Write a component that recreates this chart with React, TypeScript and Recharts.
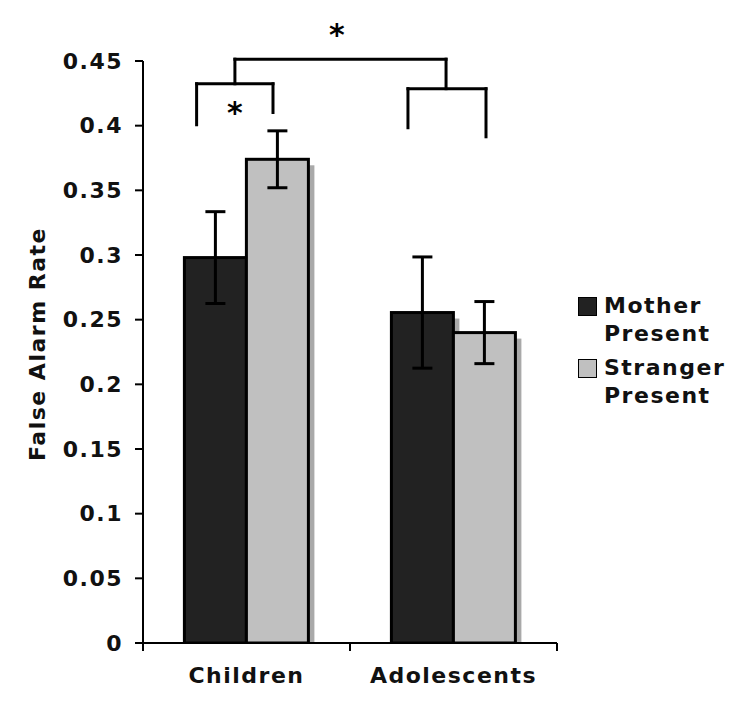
import {
  Bar,
  BarChart,
  ErrorBar,
  Label,
  Legend,
  ReferenceDot,
  ReferenceLine,
  XAxis,
  YAxis,
} from "recharts";

const FONT = "'DejaVu Sans', Verdana, sans-serif";

const GROUPS = ["Children", "Adolescents"];
const MOTHER = [0.298, 0.2555];
const STRANGER = [0.374, 0.24];
const MOTHER_ERR = [0.0355, 0.043];
const STRANGER_ERR = [0.022, 0.024];
const Y_TICKS = [0, 0.05, 0.1, 0.15, 0.2, 0.25, 0.3, 0.35, 0.4, 0.45];
const Y_LABELS = ["0", "0.05", "0.1", "0.15", "0.2", "0.25", "0.3", "0.35", "0.4", "0.45"];

const SERIES = [
  { key: "mother", err: "motherErr", name: "Mother Present", fill: "#222222" },
  { key: "stranger", err: "strangerErr", name: "Stranger Present", fill: "#c0c0c0" },
];

// significance brackets, in (group position, rate) units
const PAIR_BRACKETS = [
  { left: 0.259, right: 0.628, stem: 0.444, y: 0.4324, leftEnd: 0.4007, rightEnd: 0.4102 },
  { left: 1.28, right: 1.657, stem: 1.464, y: 0.4286, leftEnd: 0.3984, rightEnd: 0.3914 },
];
const TOP_Y = 0.4514;
const STARS = [
  { x: 0.937, y: 0.4754 },
  { x: 0.444, y: 0.415 },
];

const data = GROUPS.map((group, i) => ({
  group,
  pos: i + 0.5,
  mother: MOTHER[i],
  stranger: STRANGER[i],
  motherErr: MOTHER_ERR[i],
  strangerErr: STRANGER_ERR[i],
}));

const TEXT = { fontFamily: FONT, fontSize: 22, fontWeight: 700, fill: "#111", letterSpacing: 1.5 };

function YTick({ x, y, payload }: any) {
  const i = Y_TICKS.indexOf(payload.value);
  return (
    <text x={x} y={y} dy="0.355em" textAnchor="end" style={TEXT}>
      {Y_LABELS[i] ?? String(payload.value)}
    </text>
  );
}

function XTick({ x, y, payload }: any) {
  const v = payload.value;
  if (Number.isInteger(v)) {
    return <line x1={x} x2={x} y1={y} y2={y + 8} stroke="#000" strokeWidth={2} />;
  }
  return (
    <text x={x} y={y + 40} textAnchor="middle" style={TEXT}>
      {GROUPS[Math.floor(v)]}
    </text>
  );
}

function ShadowBar(props: any) {
  const { x, y, width, height, fill } = props;
  if (!height) return null;
  return (
    <g>
      <rect x={x + 6} y={y + 6} width={width} height={Math.max(height - 6, 0)} fill="#a9a9a9" />
      <rect x={x} y={y} width={width} height={height} fill={fill} stroke="#000" strokeWidth={3} />
    </g>
  );
}

function Star(props: any) {
  const { cx, cy } = props;
  return (
    <text x={cx} y={cy + 17} textAnchor="middle" style={{ fontFamily: FONT, fontSize: 30, fontWeight: 700, fill: "#000" }}>
      *
    </text>
  );
}

function LegendBox() {
  return (
    <div style={{ fontFamily: FONT, fontSize: 22, fontWeight: 700, letterSpacing: 1.5, lineHeight: "28px", color: "#111" }}>
      {SERIES.map((s) => (
        <div key={s.key} style={{ display: "flex", alignItems: "flex-start", marginBottom: 6 }}>
          <span
            style={{
              width: 17,
              height: 17,
              background: s.fill,
              border: "1px solid #000",
              marginTop: 5,
              marginRight: 7,
              flex: "none",
            }}
          />
          <span style={{ width: 130 }}>{s.name}</span>
        </div>
      ))}
    </div>
  );
}

const seg = (x1: number, y1: number, x2: number, y2: number, k: string) => (
  <ReferenceLine
    key={k}
    xAxisId="n"
    ifOverflow="visible"
    segment={[{ x: x1, y: y1 }, { x: x2, y: y2 }]}
    stroke="#000"
    strokeWidth={3}
    strokeLinecap="square"
  />
);

export default function App() {
  return (
    <div style={{ position: "absolute", left: 0, top: 0, background: "#fff" }}>
      <BarChart
        width={750}
        height={707}
        data={data}
        margin={{ top: 61, right: 193, bottom: 24, left: 0 }}
        barCategoryGap="20%"
        barGap={0}
      >
        <XAxis xAxisId="c" dataKey="group" hide height={0} />
        <XAxis
          xAxisId="n"
          dataKey="pos"
          type="number"
          scale="linear"
          domain={[0, 2]}
          allowDataOverflow
          ticks={[0, 0.5, 1, 1.5, 2]}
          height={40}
          tickSize={0}
          tickMargin={0}
          tickLine={false}
          tick={<XTick />}
          axisLine={{ stroke: "#000", strokeWidth: 2 }}
          interval={0}
        />
        <YAxis
          domain={[0, 0.45]}
          ticks={Y_TICKS}
          width={143}
          tickSize={8}
          tickMargin={12}
          tick={<YTick />}
          tickLine={{ stroke: "#000", strokeWidth: 2 }}
          axisLine={{ stroke: "#000", strokeWidth: 2 }}
          interval={0}
          allowDataOverflow
        >
          <Label
            content={(p: any) => {
              const vb = p.viewBox;
              const cy = vb.y + vb.height / 2 - 8;
              return (
                <text x={45} y={cy} transform={`rotate(-90, 45, ${cy})`} textAnchor="middle" style={TEXT}>
                  False Alarm Rate
                </text>
              );
            }}
          />
        </YAxis>
        {SERIES.map((s) => (
          <Bar
            key={s.key}
            xAxisId="c"
            dataKey={s.key}
            name={s.name}
            fill={s.fill}
            shape={<ShadowBar />}
            isAnimationActive={false}
          >
            <ErrorBar dataKey={s.err} width={10} stroke="#000" strokeWidth={3} />
          </Bar>
        ))}
        {PAIR_BRACKETS.flatMap((b, i) => [
          seg(b.left, b.y, b.right, b.y, `h${i}`),
          seg(b.left, b.leftEnd, b.left, b.y, `l${i}`),
          seg(b.right, b.rightEnd, b.right, b.y, `r${i}`),
          seg(b.stem, b.y, b.stem, TOP_Y, `s${i}`),
        ])}
        {seg(PAIR_BRACKETS[0].stem, TOP_Y, PAIR_BRACKETS[1].stem, TOP_Y, "top")}
        {STARS.map((s, i) => (
          <ReferenceDot key={i} xAxisId="n" x={s.x} y={s.y} r={0} ifOverflow="visible" shape={<Star />} />
        ))}
        <Legend
          layout="horizontal"
          align="center"
          verticalAlign="middle"
          content={<LegendBox />}
          wrapperStyle={{ left: 578, top: 292, width: 170 }}
        />
      </BarChart>
    </div>
  );
}
